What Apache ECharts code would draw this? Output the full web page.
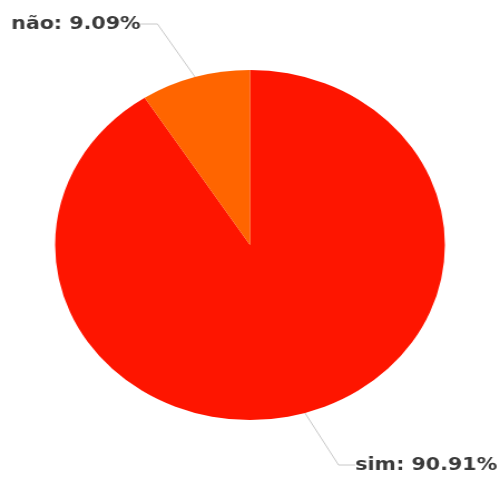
<!DOCTYPE html>
<html><head><meta charset="utf-8">
<script src="https://cdn.jsdelivr.net/npm/echarts@6/dist/echarts.min.js"></script>
<style>
html,body{margin:0;padding:0;background:#fff;overflow:hidden;}
#wrap{width:500px;height:478px;overflow:hidden;}
#c{width:449px;height:478px;transform:scaleX(1.1136);transform-origin:0 0;}
</style></head>
<body><div id="wrap"><div id="c"></div></div>
<script>
const categories = ["sim", "não"];
const values = [90.91, 9.09];
const colors = ["#fe1500", "#ff6500"];
const labelPos = [{x: 319, y: 465, align: 'left'}, {x: 10, y: 24, align: 'left'}];

const chart = echarts.init(document.getElementById('c'), null, {renderer: 'canvas'});
chart.setOption({
  animation: false,
  series: [{
    type: 'pie',
    center: [224.5, 245],
    radius: [0, 175],
    startAngle: 90,
    clockwise: true,
    data: categories.map((n, i) => ({name: n, value: values[i], itemStyle: {color: colors[i]}})),
    label: {
      show: true,
      formatter: p => p.name + ': ' + p.value.toFixed(2) + '%',
      fontFamily: 'DejaVu Sans',
      fontSize: 18.5,
      fontWeight: 'bold',
      color: '#3a3a3a'
    },
    labelLine: {show: true, length: 20, length2: 15, lineStyle: {color: '#c8c8c8', width: 1}},
    labelLayout: function (params) {
      const p = labelPos[params.dataIndex];
      return {x: p.x, y: p.y, align: p.align, verticalAlign: 'middle'};
    }
  }]
});
</script></body></html>
